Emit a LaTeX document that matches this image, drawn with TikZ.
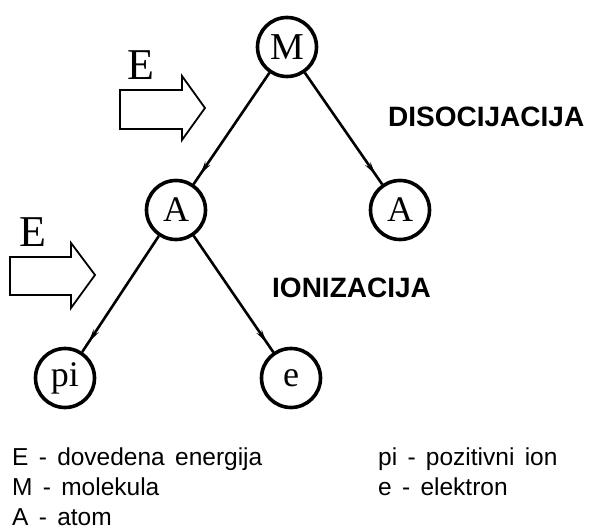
\documentclass[tikz,border=0pt]{standalone}
\usepackage{fontspec}
\setmainfont{Liberation Sans}
\newfontfamily\romfont{Liberation Serif}
\usetikzlibrary{arrows.meta,decorations.markings}

\newcommand{\gap}{\hskip0.42em\relax}

\tikzset{
  part/.style={draw, circle, line width=3.6pt, minimum size=59pt, inner sep=0pt,
    font=\romfont\fontsize{36}{36}\selectfont},
  split/.style={line width=2.6pt, postaction={decorate},
    decoration={markings, mark=at position -12pt with {\arrow{Stealth[length=13pt,width=6pt]}}}},
  energy/.style={line width=1.8pt, line join=miter},
  lbl/.style={anchor=base west, inner sep=0pt},
  bigE/.style={lbl, font=\romfont\fontsize{44}{44}\selectfont},
  process/.style={lbl, font=\bfseries\fontsize{28}{28}\selectfont},
  legend/.style={lbl, font=\fontsize{24.5}{24.5}\selectfont},
}

\begin{document}
\begin{tikzpicture}[x=1pt, y=-1pt]
\useasboundingbox (0,0) rectangle (592,529);

% particles
\node (m) [part, font=\romfont\fontsize{38}{38}\selectfont] at (287,47) {M};
\node (a1) [part] at (176,210) {A};
\node (a2) [part] at (400,210) {A};
\node (pi) [part] at (65,378) {pi};
\node (el) [part] at (291,378) {e};

\draw[split] (m) -- (a1);
\draw[split] (m) -- (a2);
\draw[split] (a1) -- (pi);
\draw[split] (a1) -- (el);

% supplied energy
\node (en1) [bigE] at (127,80) {E};
\draw[energy] (120,90) -- (182,90) -- (182,76) -- (205,108) -- (182,140) -- (182,129) -- (120,129) -- cycle;
\node (en2) [bigE] at (19,247) {E};
\draw[energy] (10,257) -- (71,257) -- (71,243) -- (95,275) -- (71,308) -- (71,295) -- (10,295) -- cycle;

\node (dis) [process] at (388,127) {DISOCIJACIJA};
\node (ion) [process] at (272,298) {IONIZACIJA};

% legend
\node (lE) [legend] at (12,465) {E\gap-\gap dovedena\gap energija};
\node (lM) [legend] at (12,495) {M\gap-\gap molekula};
\node (lA) [legend] at (12,525) {A\gap-\gap atom};
\node (lpi) [legend] at (378,465) {pi\gap-\gap pozitivni\gap ion};
\node (le) [legend] at (378,495) {e\gap-\gap elektron};
\end{tikzpicture}
\end{document}
